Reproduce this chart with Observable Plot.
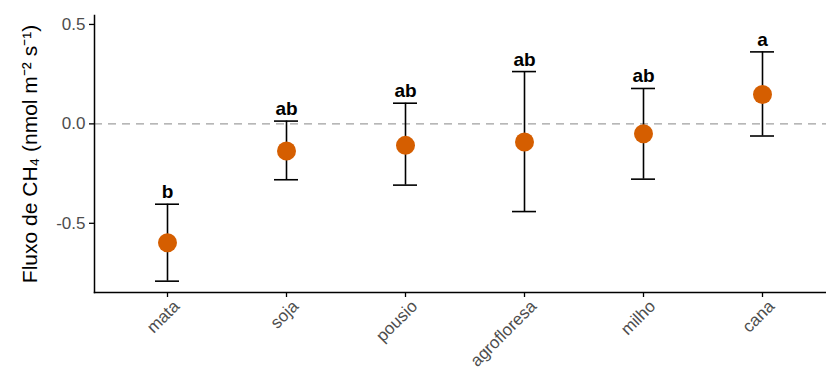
<!DOCTYPE html>
<html>
<head>
<meta charset="utf-8">
<script src="https://cdn.jsdelivr.net/npm/d3@7"></script>
<script src="https://cdn.jsdelivr.net/npm/@observablehq/plot@0.6"></script>
<style>
  html, body { margin: 0; padding: 0; background: white; }
</style>
</head>
<body>
<div id="chart"></div>
<script>
const categories = ["mata", "soja", "pousio", "agrofloresa", "milho", "cana"];
const means = [-0.598, -0.136, -0.108, -0.091, -0.050, 0.148];
const upper = [-0.404, 0.014, 0.104, 0.263, 0.178, 0.362];
const lower = [-0.791, -0.281, -0.308, -0.441, -0.278, -0.061];
const letters = ["b", "ab", "ab", "ab", "ab", "a"];
const yTicks = [-0.5, 0, 0.5];
const yLabel = "Fluxo de CH\u2084 (nmol m\u207B\u00B2 s\u207B\u00B9)";

const data = categories.map((c, i) => ({cat: c, mean: means[i], hi: upper[i], lo: lower[i], letter: letters[i]}));

const chart = Plot.plot({
  width: 826,
  height: 379,
  marginLeft: 94,
  marginRight: 0,
  marginTop: 15,
  marginBottom: 87,
  style: {fontFamily: "'Liberation Sans', Arial, sans-serif", fontSize: "17px", background: "white", color: "black"},
  x: {type: "band", domain: categories, range: [94, 834], paddingInner: 0.8, paddingOuter: 0.5},
  y: {domain: [-0.848, 0.545]},
  marks: [
    Plot.ruleY([0], {stroke: "#a0a0a0", strokeWidth: 1.3, strokeDasharray: "8,6"}),
    Plot.frame({anchor: "left", stroke: "black", strokeWidth: 1.5}),
    Plot.frame({anchor: "bottom", stroke: "black", strokeWidth: 1.5}),
    Plot.axisY({ticks: yTicks, tickFormat: d => d.toFixed(1), label: null, tickSize: 5, tickPadding: 4, stroke: "black", fill: "#4d4d4d", strokeWidth: 1.3, fontSize: 17}),
    Plot.axisX({label: null, tickSize: 5, tickPadding: 0, tickRotate: -45, stroke: "black", fill: "#4d4d4d", strokeWidth: 1.3, fontSize: 17}),
    Plot.ruleX(data, {x: "cat", y1: "lo", y2: "hi", stroke: "black", strokeWidth: 1.6}),
    Plot.tickY(data, {x: "cat", y: "hi", stroke: "black", strokeWidth: 1.6}),
    Plot.tickY(data, {x: "cat", y: "lo", stroke: "black", strokeWidth: 1.6}),
    Plot.dot(data, {x: "cat", y: "mean", r: 9.5, fill: "#D55E00", stroke: null}),
    Plot.text(data, {x: "cat", y: "hi", text: "letter", lineAnchor: "bottom", dy: -6, fontSize: 19, fontWeight: "bold", fill: "black"}),
    Plot.text([yLabel], {frameAnchor: "left", textAnchor: "middle", dx: -64, rotate: -90, fontSize: 21, fill: "black"})
  ]
});
// shift rotated x tick labels so their upper-right corner sits right of the tick, as in ggplot (hjust=1, vjust=1)
chart.querySelectorAll("g[aria-label='x-axis tick label'] text").forEach(t => {
  const tr = t.getAttribute("transform") || "";
  t.setAttribute("transform", tr.replace(/translate\(([^,]+),([^)]+)\)/, (m, a, b) => `translate(${+a + 9},${+b + 6})`));
});
document.getElementById("chart").appendChild(chart);
</script>
</body>
</html>
